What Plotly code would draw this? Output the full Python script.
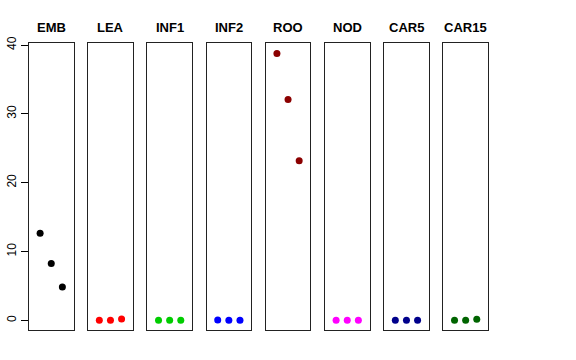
import plotly.graph_objects as go

panels = ["EMB", "LEA", "INF1", "INF2", "ROO", "NOD", "CAR5", "CAR15"]
colors = ["#000000", "#FF0000", "#00CD00", "#0000FF", "#8B0000", "#FF00FF", "#00008B", "#006400"]
positions = [1, 2, 3]
values = {
    "EMB": [12.65, 8.25, 4.85],
    "LEA": [0.0, 0.0, 0.2],
    "INF1": [0.0, 0.0, 0.0],
    "INF2": [0.05, 0.0, 0.0],
    "ROO": [38.75, 32.1, 23.2],
    "NOD": [0.0, 0.0, 0.0],
    "CAR5": [0.0, 0.0, 0.0],
    "CAR15": [0.0, 0.0, 0.15],
}
yticks = [0, 10, 20, 30, 40]

W, H = 576, 360
left0, step, width = 29.0, 59.2, 44.5
top_px, bot_px = 43.3, 330.3
title_px = 28

fig = go.Figure()
layout = dict(
    template="none",
    width=W, height=H, margin=dict(l=0, r=0, t=0, b=0, pad=0, autoexpand=False),
    paper_bgcolor="white", plot_bgcolor="white", showlegend=False,
    font=dict(family="Liberation Sans, Arial, sans-serif", color="black"),
    hovermode=False,
)
annotations = []
for i, (name, col) in enumerate(zip(panels, colors)):
    sfx = "" if i == 0 else str(i + 1)
    fig.add_trace(go.Scatter(
        x=positions, y=values[name], mode="markers",
        marker=dict(color=col, size=7, line=dict(width=0)),
        xaxis="x" + sfx, yaxis="y" + sfx, hoverinfo="skip",
    ))
    x0 = (left0 + step * i) / W
    x1 = (left0 + step * i + width) / W
    layout["xaxis" + sfx] = dict(
        domain=[x0, x1], range=[0, 4], showgrid=False, zeroline=False,
        showticklabels=False, ticks="", showline=True, mirror=True,
        linecolor="#222", linewidth=1, anchor="y" + sfx, automargin=False,
    )
    ya = dict(
        domain=[(H - bot_px) / H, (H - top_px) / H], range=[-1.45, 40.25],
        showgrid=False, zeroline=False, showline=True, mirror=True,
        linecolor="#222", linewidth=1, anchor="x" + sfx, automargin=False,
    )
    if i == 0:
        ya.update(tickvals=yticks, ticktext=[str(t) for t in yticks],
                  ticks="outside", ticklen=7, tickcolor="black", tickwidth=1,
                  tickangle=-90, tickfont=dict(size=12, color="black"))
    else:
        ya.update(showticklabels=False, ticks="")
    layout["yaxis" + sfx] = ya
    annotations.append(dict(
        text="<b>" + name + "</b>", x=(x0 + x1) / 2, y=(H - title_px) / H,
        xref="paper", yref="paper", showarrow=False,
        xanchor="center", yanchor="middle",
        font=dict(size=13, color="black", family="Liberation Sans, Arial, sans-serif"),
    ))
layout["annotations"] = annotations
fig.update_layout(**layout)
fig.write_html("out.html", config={"displayModeBar": False},
               post_script="document.body.style.margin='0';")
